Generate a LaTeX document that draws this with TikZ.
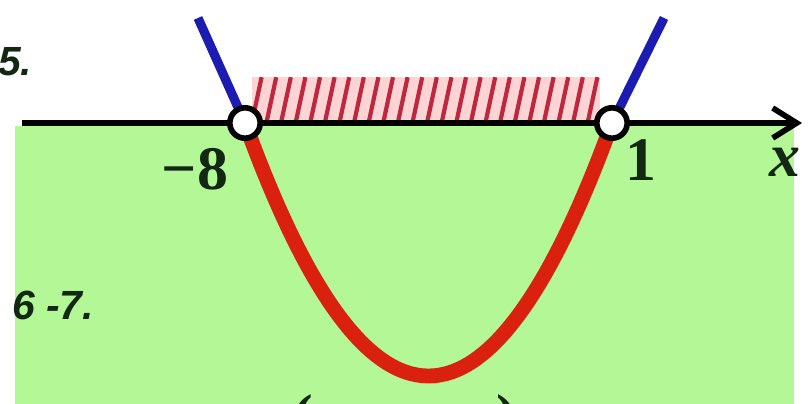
\documentclass[tikz,border=0pt]{standalone}
\usepackage{fontspec}
\setmainfont{Liberation Serif}
\newfontfamily\numsans{Liberation Sans}
\usepackage{xcolor}
\usetikzlibrary{arrows.meta,positioning}

\definecolor{bggreen}{RGB}{180,247,150}
\definecolor{labgreen}{RGB}{18,40,18}
\definecolor{parred}{RGB}{218,32,14}
\definecolor{parblue}{RGB}{28,28,178}
\definecolor{hatchred}{RGB}{190,40,62}
\definecolor{hatchpink}{RGB}{255,212,212}

\begin{document}
\begin{tikzpicture}[
  point/.style={circle, draw=black, fill=white, line width=4pt, minimum size=0.76cm, inner sep=0pt},
  tick/.style={font=\fontsize{44}{44}\selectfont\bfseries, text=labgreen, inner sep=0pt},
  tasknum/.style={font=\numsans\fontsize{29}{29}\selectfont\bfseries\itshape, text=labgreen, inner sep=0pt, anchor=west},
  branch/.style={draw=parblue, line width=6.5pt},
  curve/.style={draw=parred, line width=10.5pt},
  hatch/.style={draw=hatchred, line width=3pt},
  axis/.style={draw=black, line width=4pt, -{Straight Barb[length=6mm, width=7.5mm]}}]

  \clip (0,0) rectangle (20.2,10.1);
  \fill[bggreen] (0.375,0) rectangle (19.85,6.95);

  % solution set
  \fill[hatchpink] (6.3,7.025) rectangle (15.0,8.175);
  \foreach \k in {0,...,23}
    \draw[hatch] ({6.3+0.365*\k},7.05) -- ++(0.24,1.12);

  \coordinate (xstart) at (0.55,7.025);
  \coordinate (xend) at (20.05,7.025);
  \coordinate (m8) at (6.125,7.025);
  \coordinate (p1) at (15.3,7.025);
  \coordinate (lefttop) at (4.95,9.65);
  \coordinate (righttop) at (16.6,9.65);

  % parabola
  \path [curve] (m8) .. controls (9.183,-1.408) and (12.242,-1.408) .. (p1);
  \path [branch] (m8) -- (lefttop);
  \path [branch] (p1) -- (righttop);

  \path [axis] (xstart) -- (xend);
  \node [point] (ptm8) at (m8) {};
  \node [point] (ptp1) at (p1) {};

  \node [tick] (labm8) at (4.875,5.875) {−8};
  \node [tick] (labp1) at (16.025,6.1) {1};
  \node [tick, font=\fontsize{44}{44}\selectfont\bfseries\itshape] (labx) at (19.62,6.05) {x};

  \node [tasknum] (task5) at (-0.05,8.55) {5.};
  \node [tasknum] (task67) at (0.3,2.475) {6 -7.};

  \node [tick, anchor=north] (lpar) at (7.575,0.25) {(};
  \node [tick, anchor=north] (rpar) at (12.675,0.25) {)};
\end{tikzpicture}
\end{document}
